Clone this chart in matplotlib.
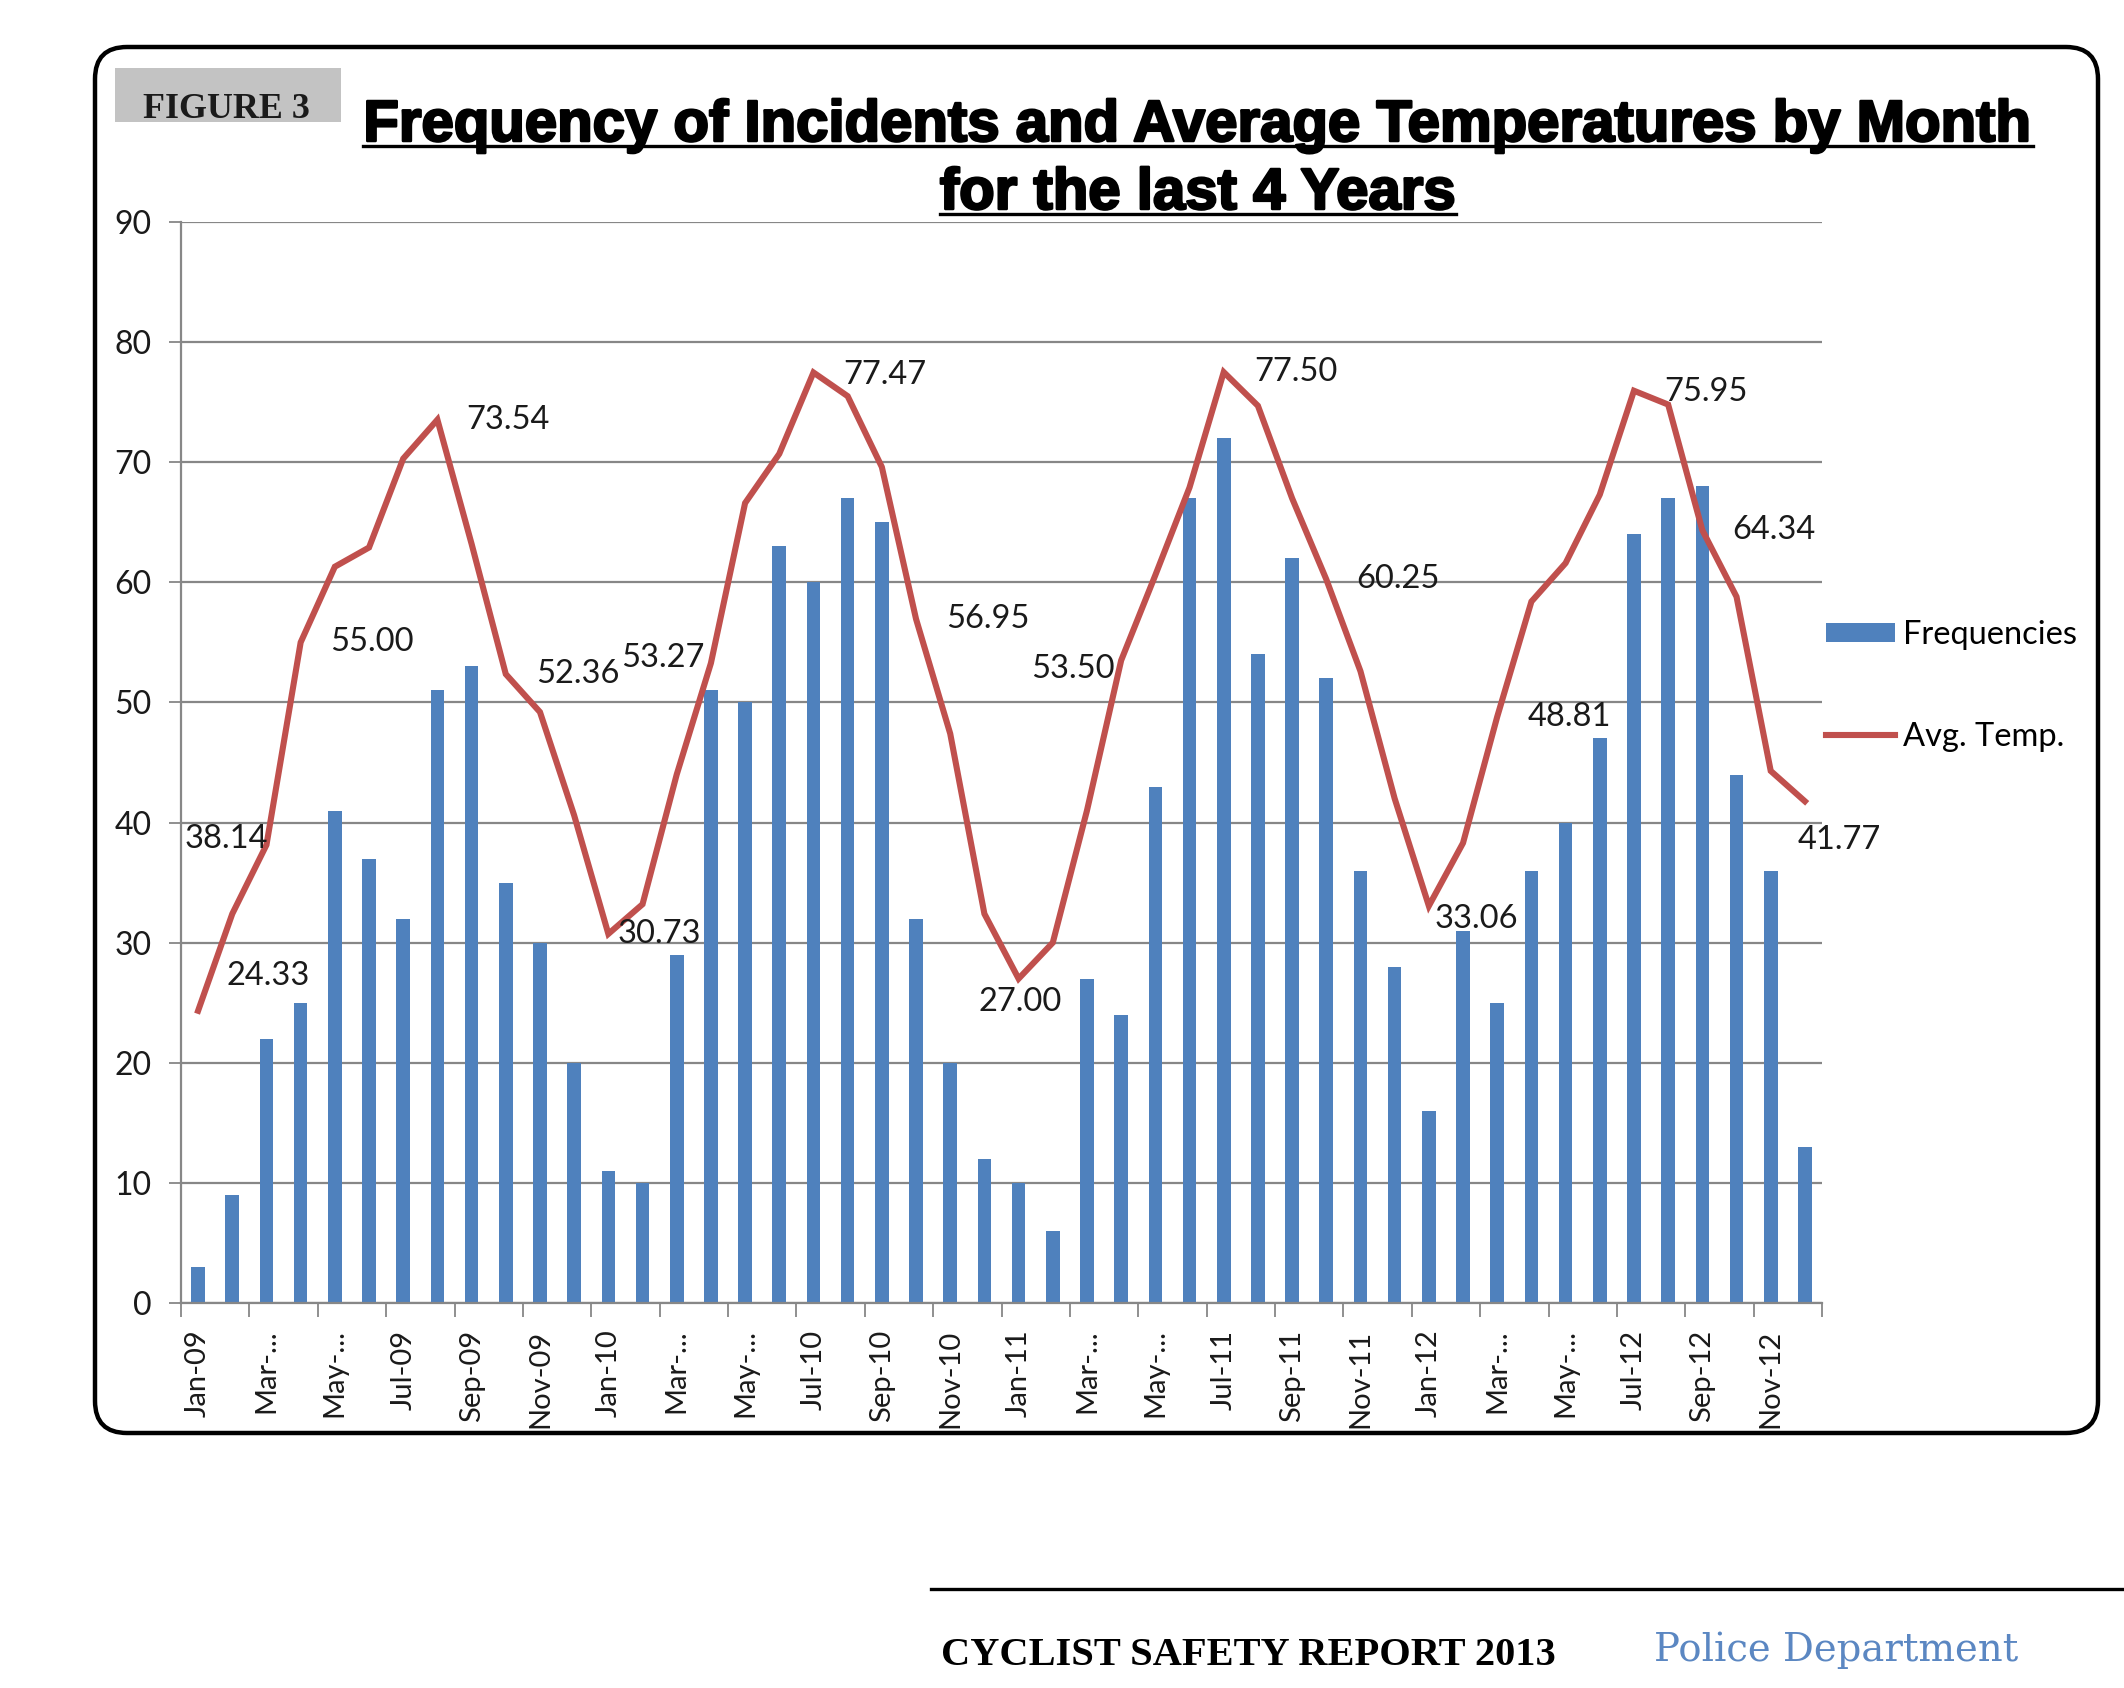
import matplotlib
matplotlib.use("Agg")
import matplotlib.pyplot as plt
from matplotlib.patches import FancyBboxPatch, Rectangle, Patch
from matplotlib.lines import Line2D
from matplotlib.transforms import IdentityTransform
import matplotlib.patheffects as pe

# ---------------- data ----------------
months = [f"{m}-{y}" for y in ["09", "10", "11", "12"]
          for m in ["Jan", "Feb", "Mar", "Apr", "May", "Jun",
                    "Jul", "Aug", "Sep", "Oct", "Nov", "Dec"]]

frequencies = [3, 9, 22, 25, 41, 37, 32, 51, 53, 35, 30, 20,
               11, 10, 29, 51, 50, 63, 60, 67, 65, 32, 20, 12,
               10, 6, 27, 24, 43, 67, 72, 54, 62, 52, 36, 28,
               16, 31, 25, 36, 40, 47, 64, 67, 68, 44, 36, 13]

avg_temp = [24.33, 32.4, 38.14, 55.00, 61.3, 62.9, 70.3, 73.54, 63.2, 52.36, 49.2, 40.6,
            30.73, 33.2, 44.0, 53.27, 66.6, 70.7, 77.47, 75.5, 69.6, 56.95, 47.4, 32.4,
            27.00, 30.0, 41.0, 53.50, 60.6, 67.9, 77.50, 74.7, 67.0, 60.25, 52.6, 42.0,
            33.06, 38.3, 48.81, 58.4, 61.6, 67.3, 75.95, 74.8, 64.34, 58.8, 44.3, 41.77]

tick_labels = ["Jan-09", "Mar-...", "May-...", "Jul-09", "Sep-09", "Nov-09",
               "Jan-10", "Mar-...", "May-...", "Jul-10", "Sep-10", "Nov-10",
               "Jan-11", "Mar-...", "May-...", "Jul-11", "Sep-11", "Nov-11",
               "Jan-12", "Mar-...", "May-...", "Jul-12", "Sep-12", "Nov-12"]

labelled_points = [0, 2, 3, 7, 9, 12, 15, 18, 21, 24, 27, 30, 33, 36, 38, 42, 44, 47]
# label offsets (category units, value units) relative to each labelled point
label_offsets = [(2.06, 2.9), (-1.17, 0.5), (2.08, 0.0), (2.05, 0.0), (2.1, 0.0),
                 (1.5, 0.0), (-1.4, 0.4), (2.1, -0.2), (2.1, 0.0), (0.05, -1.9),
                 (-1.4, -0.7), (2.1, 0.0), (2.1, 0.0), (1.4, -1.06), (2.1, 0.0),
                 (2.1, -0.1), (2.1, 0.0), (1.0, -3.2)]

# ---------------- styling ----------------
W, H = 2124, 1688
BLUE = "#4f81bd"
RED = "#c0504d"
GRID = "#878787"
FONT = "Lato"
plt.rcParams["font.family"] = [FONT, "DejaVu Sans"]

fig = plt.figure(figsize=(W / 100, H / 100), dpi=100)
fig.patch.set_facecolor("white")

# rounded border
x0, yt, x1, yb = 95, 47, 2098, 1433
border = FancyBboxPatch((x0, H - yb), x1 - x0, yb - yt,
                        boxstyle="round,pad=0,rounding_size=32",
                        transform=IdentityTransform(), fill=False,
                        edgecolor="black", linewidth=3.2, zorder=0)
fig.patches.append(border)

# axes
left, right = 181 / W, 1822 / W
bottom, top = 1 - 1303 / H, 1 - 222 / H
ax = fig.add_axes([left, bottom, right - left, top - bottom])

x = list(range(len(months)))
ax.bar(x, frequencies, width=0.4, color=BLUE, zorder=2, label="Frequencies")
ax.plot(x, avg_temp, color=RED, linewidth=4.4, zorder=3, label="Avg. Temp.",
        solid_joinstyle="miter")

for idx, (dx, dy) in zip(labelled_points, label_offsets):
    ax.text(idx + dx, avg_temp[idx] + dy, f"{avg_temp[idx]:.2f}",
            ha="center", va="center", fontsize=23.5, color="#1a1a1a",
            zorder=4, clip_on=False)

ax.set_xlim(-0.5, len(months) - 0.5)
ax.set_ylim(0, 90)
ax.set_yticks(range(0, 91, 10))
ax.tick_params(axis="y", labelsize=23, length=9, width=1.3, color=GRID,
               pad=12, labelcolor="#1a1a1a")
ax.yaxis.grid(True, color=GRID, linewidth=1.6, zorder=0)
ax.set_axisbelow(True)

# x: tick marks at boundaries of 2-month groups, labels centred on categories
ax.set_xticks([i - 0.5 for i in range(0, len(months) + 1, 2)])
ax.set_xticklabels([])
ax.tick_params(axis="x", which="major", length=10, width=1.3, color=GRID)
ax.set_xticks(list(range(0, len(months), 2)), minor=True)
ax.set_xticklabels(tick_labels, minor=True, rotation=90, fontsize=21,
                   color="#1a1a1a")
ax.tick_params(axis="x", which="minor", length=0, pad=19)

for s in ["top", "right"]:
    ax.spines[s].set_visible(False)
for s in ["left", "bottom"]:
    ax.spines[s].set_color(GRID)
    ax.spines[s].set_linewidth(1.6)

# legend
handles = [Patch(facecolor=BLUE, edgecolor="none"),
           Line2D([0], [0], color=RED, linewidth=4.4)]
fig.legend(handles, ["Frequencies", "Avg. Temp."], loc="center left",
           bbox_to_anchor=(1826 / W, 1 - 686 / H), frameon=False,
           fontsize=23.5, handlelength=2.1, handleheight=0.5,
           handletextpad=0.25, labelspacing=2.2, borderpad=0,
           borderaxespad=0)

# FIGURE 3 box
fig.patches.append(Rectangle((115, H - 122), 226, 54, transform=IdentityTransform(),
                             facecolor="#c3c3c3", edgecolor="none", zorder=1))

renderer = fig.canvas.get_renderer()

def fit_text(s, xc, baseline_top, width, size, ha="center", **kw):
    t = fig.text(xc / W, 1 - baseline_top / H, s, ha=ha, va="baseline",
                 fontsize=size, **kw)
    bb = t.get_window_extent(renderer)
    t.set_fontsize(size * width / bb.width)
    return t

fit_text("FIGURE 3", 226, 118, 166, 22, family=["Liberation Serif"],
         fontweight="bold", color="#1a1a1a")

title_kw = dict(family=["Liberation Sans"], fontweight="bold", color="black",
                path_effects=[pe.withStroke(linewidth=1.8, foreground="black")])
t1 = fit_text("Frequency of Incidents and Average Temperatures by Month",
              1198, 141, 1669, 34, **title_kw)
t2 = fit_text("for the last 4 Years", 1198, 209, 530, 34, **title_kw)
t2.set_fontsize(t1.get_fontsize())

for t, uy in [(t1, 146), (t2, 214)]:
    bb = t.get_window_extent(renderer)
    fig.lines.append(Line2D([bb.x0, bb.x1], [H - uy, H - uy], color="black",
                            linewidth=2.4, transform=IdentityTransform()))

# footer
fig.lines.append(Line2D([931, W], [H - 1589, H - 1589], color="black",
                        linewidth=2.4, transform=IdentityTransform()))
fit_text("CYCLIST SAFETY REPORT 2013", 941, 1665, 614, 24, ha="left",
         family=["Liberation Serif"], fontweight="bold", color="black")
fit_text("Police Department", 1654, 1661, 364, 28, ha="left",
         family=["DejaVu Serif"], color="#5b87c2")

fig.savefig("out.png", dpi=100, facecolor="white")
